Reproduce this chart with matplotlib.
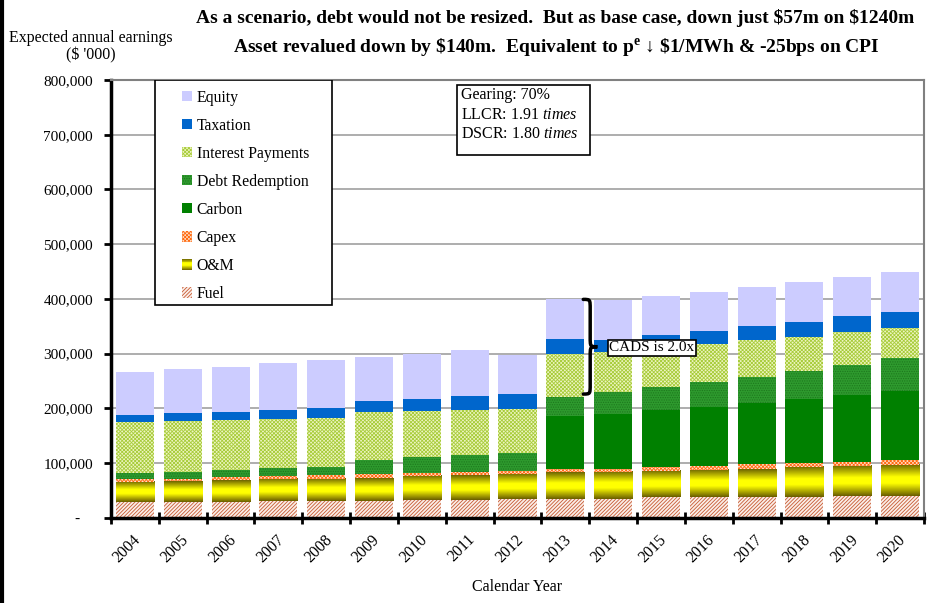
import numpy as np
import matplotlib
matplotlib.use("Agg")
import matplotlib.pyplot as plt
import matplotlib.transforms as mtransforms
from matplotlib.colors import LinearSegmentedColormap
from matplotlib.patches import Rectangle, PathPatch
from matplotlib.path import Path
from matplotlib.legend_handler import HandlerBase
from matplotlib.lines import Line2D

plt.rcParams['font.family'] = ['Liberation Serif', 'DejaVu Serif']
plt.rcParams['mathtext.fontset'] = 'custom'
plt.rcParams['mathtext.rm'] = 'Liberation Serif'
plt.rcParams['mathtext.it'] = 'Liberation Serif:italic'
plt.rcParams['mathtext.bf'] = 'Liberation Serif:bold'
plt.rcParams['hatch.linewidth'] = 0.6

# expected annual earnings, $'000
years = ['2004', '2005', '2006', '2007', '2008', '2009', '2010', '2011', '2012',
         '2013', '2014', '2015', '2016', '2017', '2018', '2019', '2020']
fuel = [29000, 29000, 29000, 30000, 30000, 31000, 33000, 33000, 34000,
        34000, 34000, 37000, 37000, 38000, 38000, 40000, 40000]
om = [37000, 38000, 40000, 41000, 41000, 42000, 44000, 45000, 46000,
      49000, 50000, 49000, 51000, 51000, 55000, 55000, 57000]
capex = [4000, 4000, 5000, 5000, 7000, 7000, 5000, 6000, 5000,
         6000, 5000, 7000, 7000, 9000, 7000, 7000, 8000]
carbon = [0, 0, 0, 0, 0, 0, 0, 0, 0,
          96000, 101000, 104000, 107000, 112000, 117000, 122000, 126000]
debt = [12000, 12000, 13000, 15000, 15000, 25000, 29000, 31000, 33000,
        36000, 39000, 42000, 46000, 47000, 51000, 55000, 61000]
interest = [93000, 94000, 91000, 89000, 89000, 88000, 84000, 82000, 81000,
            79000, 73000, 75000, 70000, 68000, 62000, 60000, 55000]
tax = [13000, 14000, 15000, 17000, 18000, 20000, 22000, 25000, 27000,
       27000, 23000, 20000, 23000, 25000, 28000, 29000, 29000]
equity = [78000, 81000, 82000, 86000, 88000, 80000, 82000, 84000, 71000,
          72000, 73000, 71000, 71000, 72000, 73000, 72000, 73000]

title1 = r"As a scenario, debt would not be resized.  But as base case, down just \$57m on \$1240m"
title2 = r"Asset revalued down by \$140m.  Equivalent to p$^{\mathbf{e}}$ ↓ \$1/MWh & -25bps on CPI"
info_lines = ["Gearing: 70%", r"LLCR: 1.91 $\mathit{times}$", r"DSCR: 1.80 $\mathit{times}$"]
cads_text = "CADS is 2.0x"
cads_year = '2013'

om_cmap = LinearSegmentedColormap.from_list(
    'om', [(0.0, '#6a5e00'), (0.4, '#ffff00'), (0.6, '#ffff00'), (1.0, '#6f6600')])


class GradientHandler(HandlerBase):
    def create_artists(self, legend, orig_handle, xdescent, ydescent,
                       width, height, fontsize, trans):
        n = 12
        out = []
        for k in range(n):
            r = Rectangle((-xdescent, -ydescent + height * k / n), width, height / n + 0.3,
                          facecolor=om_cmap((k + 0.5) / n), edgecolor='none', transform=trans)
            out.append(r)
        return out


fig = plt.figure(figsize=(9.52, 6.03), dpi=100)
ax = fig.add_axes([111 / 952, 1 - 517.7 / 603, 813 / 952, (517.7 - 80) / 603])

x = np.arange(len(years))
w = 0.795
bottom = np.zeros(len(years))
handles = {}

styles = [
    ('Fuel', fuel, dict(facecolor='#fbeee8', edgecolor='#c65a32', hatch='/' * 9)),
    ('O&M', om, None),
    ('Capex', capex, dict(facecolor='#ffe0c8', edgecolor='#ff6a10', hatch='x' * 9)),
    ('Carbon', carbon, dict(facecolor='#008000', edgecolor='#008000')),
    ('Debt Redemption', debt, dict(facecolor='#2e9a2e', edgecolor='#1d781d', hatch='.' * 7)),
    ('Interest Payments', interest, dict(facecolor='#eef5c4', edgecolor='#a8cc3a', hatch='x' * 9)),
    ('Taxation', tax, dict(facecolor='#0066cc', edgecolor='#0066cc')),
    ('Equity', equity, dict(facecolor='#ccccff', edgecolor='#ccccff')),
]

grad = np.linspace(0, 1, 64).reshape(-1, 1)
for name, vals, st in styles:
    vals = np.array(vals, dtype=float)
    if st is None:
        bars = ax.bar(x, vals, w, bottom=bottom, color='none', linewidth=0)
        for i in range(len(x)):
            ax.imshow(grad, cmap=om_cmap, aspect='auto', zorder=1,
                      extent=(x[i] - w / 2, x[i] + w / 2, bottom[i] + vals[i], bottom[i]))
        handles[name] = Rectangle((0, 0), 1, 1)
    else:
        bars = ax.bar(x, vals, w, bottom=bottom, linewidth=0, zorder=1, **st)
        handles[name] = bars
    bottom += vals

ax.set_xlim(-0.5, len(years) - 0.5)
ax.set_ylim(0, 800000)

# axes styling
ax.set_axisbelow(True)
ax.yaxis.grid(True, color='#a0a0a0', linewidth=1.2)
for s in ['top', 'right']:
    ax.spines[s].set_color('#808080')
    ax.spines[s].set_linewidth(1.5)
for s in ['left', 'bottom']:
    ax.spines[s].set_color('black')
    ax.spines[s].set_linewidth(2.5)

yt = np.arange(0, 800001, 100000)
ax.set_yticks(yt, ['-' if v == 0 else f'{v:,.0f}' for v in yt], fontsize=11)
ax.tick_params(axis='y', direction='out', length=5, width=2, pad=8)
zero_lab = ax.get_yticklabels()[0]
zero_lab.set_transform(zero_lab.get_transform() +
                       mtransforms.ScaledTranslation(-13 / 100, 0, fig.dpi_scale_trans))

ax.set_xticks(np.arange(-0.5, len(years), 1.0), [''] * (len(years) + 1))
ax.tick_params(axis='x', which='major', direction='inout', length=9, width=2)
ax.set_xticks(x, years, minor=True, rotation=45, ha='right', va='top', fontsize=11.5)
ax.tick_params(axis='x', which='minor', length=0, pad=10)
for lab in ax.get_xticklabels(minor=True):
    lab.set_transform(lab.get_transform() +
                      mtransforms.ScaledTranslation(9 / 100, 0, fig.dpi_scale_trans))
ax.set_xlabel('Calendar Year', fontsize=11.5, labelpad=10)

# titles
fig.text(0.583, 1 - 18 / 603, title1, ha='center', va='center', fontsize=14, fontweight='bold')
fig.text(0.584, 1 - 47 / 603, title2, ha='center', va='center', fontsize=14, fontweight='bold')
fig.text(91 / 952, 1 - 38 / 603, 'Expected annual earnings', ha='center', va='center', fontsize=11.5)
fig.text(91 / 952, 1 - 55 / 603, r"(\$ '000)", ha='center', va='center', fontsize=11.5)

# legend
ax.add_patch(Rectangle((0.054, 0.486), 0.218, 0.514, transform=ax.transAxes,
                       facecolor='white', edgecolor='black', linewidth=1.2, zorder=3))
order = ['Equity', 'Taxation', 'Interest Payments', 'Debt Redemption',
         'Carbon', 'Capex', 'O&M', 'Fuel']
leg = ax.legend([handles[k] for k in order], order, loc='upper left',
                bbox_to_anchor=(0.0873, 0.978), frameon=False, fontsize=11.3,
                handlelength=0.66, handleheight=0.66, handletextpad=0.28,
                labelspacing=0.766, borderpad=0, borderaxespad=0,
                handler_map={handles['O&M']: GradientHandler()})
leg.set_zorder(4)

# info box
ax.add_patch(Rectangle((6.74, 663000), 2.78, 128000, facecolor='white',
                       edgecolor='black', linewidth=1.2, zorder=3))
for k, line in enumerate(info_lines):
    ax.text(6.82, 772000 - k * 35500, line, ha='left', va='center', fontsize=11.5, zorder=4)

# CADS brace on the 2013 bar
i = years.index(cads_year)
cum = np.cumsum([fuel, om, capex, carbon, debt, interest, tax, equity], axis=0)
y_top = cum[-1][i]
y_bot = cum[4][i] + 5000
y_mid = (y_top + y_bot) / 2
x0, xm, xt = i + 0.375, i + 0.52, i + 0.67
r = 18000
verts = [(x0, y_top), (xm, y_top), (xm, y_top), (xm, y_top - r),
         (xm, y_mid + r),
         (xm, y_mid), (xm, y_mid), (xt, y_mid),
         (xm, y_mid), (xm, y_mid), (xm, y_mid - r),
         (xm, y_bot + r),
         (xm, y_bot), (xm, y_bot), (x0, y_bot)]
codes = [Path.MOVETO, Path.CURVE4, Path.CURVE4, Path.CURVE4,
         Path.LINETO,
         Path.CURVE4, Path.CURVE4, Path.CURVE4,
         Path.CURVE4, Path.CURVE4, Path.CURVE4,
         Path.LINETO,
         Path.CURVE4, Path.CURVE4, Path.CURVE4]
ax.add_patch(PathPatch(Path(verts, codes), facecolor='none', edgecolor='black',
                       linewidth=2.5, zorder=5, capstyle='round'))
ax.text(i + 0.92, y_mid - 2000, cads_text, ha='left', va='center', fontsize=11, zorder=6,
        bbox=dict(boxstyle='square,pad=0.1', facecolor='white', edgecolor='black', linewidth=1.2))

fig.add_artist(Line2D([0.002, 0.002], [0, 1], transform=fig.transFigure,
                      color='black', linewidth=3))

fig.savefig('out.png', dpi=100)
